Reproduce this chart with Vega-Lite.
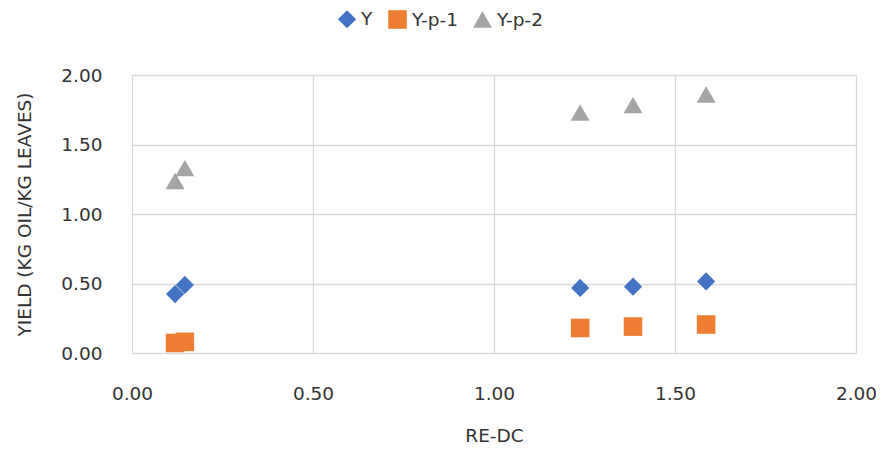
{
  "$schema": "https://vega.github.io/schema/vega-lite/v6.json",
  "width": 724,
  "height": 278,
  "autosize": "none",
  "padding": {"left": 132, "top": 75, "right": 33, "bottom": 101},
  "background": "white",
  "config": {
    "font": "DejaVu Sans",
    "view": {"stroke": null},
    "axis": {"labelFont": "DejaVu Sans", "titleFont": "DejaVu Sans", "labelColor": "#333333", "titleColor": "#333333", "gridColor": "#D9D9D9", "gridWidth": 1.3, "domain": false, "ticks": false, "labelFontSize": 18.5, "titleFontSize": 18.5, "titleFontWeight": "normal"}
  },
  "data": {
    "values": [
      {"re_dc": 0.119, "series": "Y", "yield": 0.424},
      {"re_dc": 0.146, "series": "Y", "yield": 0.49},
      {"re_dc": 1.238, "series": "Y", "yield": 0.468},
      {"re_dc": 1.384, "series": "Y", "yield": 0.477},
      {"re_dc": 1.586, "series": "Y", "yield": 0.515},
      {"re_dc": 0.119, "series": "Y-p-1", "yield": 0.072},
      {"re_dc": 0.146, "series": "Y-p-1", "yield": 0.08},
      {"re_dc": 1.238, "series": "Y-p-1", "yield": 0.18},
      {"re_dc": 1.384, "series": "Y-p-1", "yield": 0.19},
      {"re_dc": 1.586, "series": "Y-p-1", "yield": 0.205},
      {"re_dc": 0.119, "series": "Y-p-2", "yield": 1.237},
      {"re_dc": 0.146, "series": "Y-p-2", "yield": 1.33},
      {"re_dc": 1.238, "series": "Y-p-2", "yield": 1.73},
      {"re_dc": 1.384, "series": "Y-p-2", "yield": 1.784},
      {"re_dc": 1.586, "series": "Y-p-2", "yield": 1.86}
    ]
  },
  "mark": {"type": "point", "filled": true, "opacity": 1},
  "encoding": {
    "x": {"field": "re_dc", "type": "quantitative", "title": "RE-DC",
      "scale": {"domain": [0, 2], "nice": false},
      "axis": {"values": [0, 0.5, 1, 1.5, 2], "format": ".2f", "labelFlush": false, "labelPadding": 31, "titlePadding": 24}},
    "y": {"field": "yield", "type": "quantitative", "title": "YIELD (KG OIL/KG LEAVES)",
      "scale": {"domain": [0, 2], "nice": false},
      "axis": {"values": [0, 0.5, 1, 1.5, 2], "format": ".2f", "labelPadding": 30, "titlePadding": 26}},
    "color": {"field": "series", "type": "nominal",
      "scale": {"domain": ["Y", "Y-p-1", "Y-p-2"], "range": ["#4472C4", "#ED7D31", "#A5A5A5"]},
      "legend": {"title": null, "orient": "none", "direction": "horizontal", "legendX": 205, "legendY": -66, "labelFontSize": 18.5, "labelFont": "DejaVu Sans", "labelColor": "#333333", "symbolSize": 240, "columnPadding": 14, "labelOffset": 4}},
    "shape": {"field": "series", "type": "nominal",
      "scale": {"domain": ["Y", "Y-p-1", "Y-p-2"], "range": ["diamond", "square", "triangle-up"]}},
    "size": {"field": "series", "type": "nominal",
      "scale": {"domain": ["Y", "Y-p-1", "Y-p-2"], "range": [330, 360, 360]}, "legend": null}
  }
}
